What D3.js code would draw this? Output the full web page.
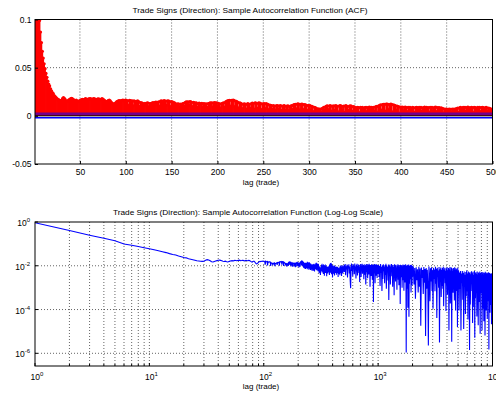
<!DOCTYPE html>
<html>
<head>
<meta charset="utf-8">
<script src="https://cdn.jsdelivr.net/npm/d3@7"></script>
<style>
  body { margin: 0; background: #fff; }
  svg text { font-family: "Liberation Sans", Arial, sans-serif; fill: #000; }
</style>
</head>
<body>
<svg id="chart" width="496" height="394"></svg>
<script>
const acfLag1to500 = [
  0.93, 0.41, 0.25, 0.18, 0.14, 0.099, 0.087, 0.076, 0.067, 0.060,
  0.054, 0.049, 0.044, 0.040, 0.036, 0.033, 0.031, 0.028, 0.026, 0.024,
  0.023, 0.021, 0.020, 0.019, 0.018, 0.017, 0.0165, 0.016, 0.0158, 0.016,
  0.0178, 0.019, 0.0182, 0.0168, 0.0152, 0.0149, 0.0158, 0.0166, 0.0172, 0.0178,
  0.0181, 0.0176, 0.0169, 0.0162, 0.0158, 0.0163, 0.0155, 0.0149, 0.0153, 0.0159,
  0.0164, 0.0168, 0.0171, 0.0166, 0.0172, 0.0178, 0.0175, 0.0169, 0.0173, 0.0177,
  0.0180, 0.0176, 0.0171, 0.0174, 0.0179, 0.0176, 0.0170, 0.0168, 0.0173, 0.0177,
  0.0175, 0.0169, 0.0172, 0.0178, 0.0174, 0.0166, 0.0158, 0.0151, 0.0146, 0.0152,
  0.0159, 0.0164, 0.0156, 0.0143, 0.0131, 0.0125, 0.0122, 0.0128, 0.0136, 0.0144,
  0.0151, 0.0156, 0.0159, 0.0154, 0.0157, 0.0160, 0.0163, 0.0158, 0.0161, 0.0164,
  0.0159, 0.0155, 0.0112, 0.0162, 0.0157, 0.0153, 0.0156, 0.0104, 0.0155, 0.0150,
  0.0146, 0.0151, 0.0155, 0.0149, 0.0098, 0.0138, 0.0134, 0.0131, 0.0128, 0.0107,
  0.0130, 0.0127, 0.0131, 0.0135, 0.0095, 0.0128, 0.0126, 0.0130, 0.0134, 0.0137,
  0.0110, 0.0139, 0.0142, 0.0138, 0.0141, 0.0145, 0.0101, 0.0152, 0.0155, 0.0151,
  0.0154, 0.0157, 0.0153, 0.0112, 0.0154, 0.0156, 0.0152, 0.0148, 0.0097, 0.0147,
  0.0143, 0.0139, 0.0134, 0.0130, 0.0105, 0.0122, 0.0125, 0.0121, 0.0092, 0.0122,
  0.0119, 0.0124, 0.0130, 0.0099, 0.0141, 0.0145, 0.0142, 0.0146, 0.0108, 0.0147,
  0.0144, 0.0140, 0.0096, 0.0139, 0.0135, 0.0131, 0.0134, 0.0090, 0.0127, 0.0131,
  0.0128, 0.0125, 0.0129, 0.0094, 0.0128, 0.0124, 0.0121, 0.0125, 0.0087, 0.0126,
  0.0130, 0.0134, 0.0131, 0.0135, 0.0093, 0.0134, 0.0137, 0.0133, 0.0136, 0.0098,
  0.0129, 0.0125, 0.0084, 0.0124, 0.0128, 0.0132, 0.0136, 0.0091, 0.0146, 0.0151,
  0.0155, 0.0158, 0.0161, 0.0102, 0.0162, 0.0159, 0.0163, 0.0160, 0.0095, 0.0152,
  0.0148, 0.0143, 0.0082, 0.0135, 0.0131, 0.0127, 0.0076, 0.0120, 0.0124, 0.0121,
  0.0118, 0.0071, 0.0126, 0.0123, 0.0119, 0.0080, 0.0127, 0.0131, 0.0128, 0.0069,
  0.0135, 0.0131, 0.0128, 0.0078, 0.0136, 0.0133, 0.0129, 0.0066, 0.0122, 0.0125,
  0.0128, 0.0074, 0.0127, 0.0123, 0.0119, 0.0064, 0.0112, 0.0109, 0.0106, 0.0070,
  0.0106, 0.0102, 0.0061, 0.0103, 0.0107, 0.0104, 0.0067, 0.0103, 0.0106, 0.0058,
  0.0099, 0.0103, 0.0106, 0.0063, 0.0098, 0.0101, 0.0104, 0.0055, 0.0097, 0.0101,
  0.0105, 0.0068, 0.0113, 0.0116, 0.0120, 0.0072, 0.0121, 0.0124, 0.0120, 0.0062,
  0.0119, 0.0122, 0.0118, 0.0066, 0.0117, 0.0113, 0.0109, 0.0057, 0.0108, 0.0104,
  0.0107, 0.0061, 0.0098, 0.0094, 0.0045, 0.0089, 0.0083, 0.0078, 0.0052, 0.0072,
  0.0068, 0.0070, 0.0038, 0.0074, 0.0081, 0.0088, 0.0057, 0.0095, 0.0101, 0.0104,
  0.0064, 0.0102, 0.0105, 0.0049, 0.0101, 0.0098, 0.0103, 0.0060, 0.0106, 0.0102,
  0.0099, 0.0042, 0.0103, 0.0106, 0.0101, 0.0066, 0.0098, 0.0102, 0.0035, 0.0105,
  0.0101, 0.0097, 0.0058, 0.0100, 0.0104, 0.0100, 0.0047, 0.0096, 0.0093, 0.0089,
  0.0062, 0.0086, 0.0089, 0.0085, 0.0033, 0.0088, 0.0084, 0.0087, 0.0056, 0.0083,
  0.0086, 0.0089, 0.0044, 0.0085, 0.0088, 0.0091, 0.0063, 0.0087, 0.0084, 0.0088,
  0.0051, 0.0091, 0.0095, 0.0099, 0.0038, 0.0104, 0.0109, 0.0113, 0.0059, 0.0117,
  0.0120, 0.0118, 0.0048, 0.0121, 0.0123, 0.0119, 0.0066, 0.0116, 0.0121, 0.0118,
  0.0041, 0.0114, 0.0110, 0.0106, 0.0061, 0.0101, 0.0097, 0.0093, 0.0029, 0.0090,
  0.0088, 0.0091, 0.0054, 0.0087, 0.0090, 0.0086, 0.0043, 0.0089, 0.0085, 0.0088,
  0.0064, 0.0084, 0.0087, 0.0083, 0.0036, 0.0086, 0.0089, 0.0085, 0.0058, 0.0088,
  0.0084, 0.0087, 0.0047, 0.0083, 0.0086, 0.0090, 0.0062, 0.0087, 0.0083, 0.0086,
  0.0039, 0.0089, 0.0085, 0.0088, 0.0055, 0.0084, 0.0087, 0.0090, 0.0045, 0.0086,
  0.0083, 0.0086, 0.0065, 0.0082, 0.0078, 0.0074, 0.0031, 0.0071, 0.0068, 0.0070,
  0.0052, 0.0067, 0.0070, 0.0068, 0.0042, 0.0071, 0.0067, 0.0069, 0.0057, 0.0072,
  0.0076, 0.0080, 0.0037, 0.0083, 0.0087, 0.0084, 0.0060, 0.0088, 0.0085, 0.0089,
  0.0046, 0.0086, 0.0090, 0.0087, 0.0064, 0.0084, 0.0088, 0.0085, 0.0034, 0.0089,
  0.0086, 0.0083, 0.0057, 0.0087, 0.0084, 0.0088, 0.0044, 0.0085, 0.0089, 0.0086,
  0.0063, 0.0083, 0.0087, 0.0084, 0.0049, 0.0080, 0.0076, 0.0072, 0.0055, 0.0069
];

// tail of the ACF (log-log panel only), sampled lags
const tailLag505to1000 = [ // every 5 lags
  0.0108, 0.0052, 0.0121, 0.0037, 0.0096, 0.0068, 0.0114, 0.0029, 0.0101, 0.0075,
  0.0118, 0.0044, 0.0093, 0.0021, 0.00095, 0.0087, 0.0125, 0.0058, 0.0104, 0.0033,
  0.0116, 0.0071, 0.0099, 0.0041, 0.0127, 0.0063, 0.0092, 0.0026, 0.0111, 0.0055,
  0.0122, 0.0036, 0.0098, 0.0079, 0.0113, 0.0047, 0.0089, 0.0018, 0.0106, 0.0066,
  0.0119, 0.0031, 0.0102, 0.0059, 0.0124, 0.0043, 0.0094, 0.0072, 0.0110, 0.0024,
  0.0097, 0.0061, 0.0117, 0.0038, 0.0105, 0.0014, 0.0091, 0.0069, 0.0120, 0.0049,
  0.0100, 0.0027, 0.0115, 0.0064, 0.0088, 0.0040, 0.0123, 0.0053, 0.0096, 0.0011,
  0.0109, 0.0074, 0.0093, 0.0034, 0.0118, 0.0057, 0.0101, 0.0023, 0.0112, 0.0062,
  0.0086, 0.00022, 0.0107, 0.0045, 0.0121, 0.0067, 0.0095, 0.0016, 0.0113, 0.0051,
  0.0099, 0.0035, 0.0116, 0.0070, 0.0090, 0.0028, 0.0108, 0.0056, 0.0103, 0.0042
];
const tailLag1010to2000 = [ // every 10 lags
  0.0112, 0.0031, 0.0097, 0.0012, 0.0121, 0.0048, 0.0089, 0.0007, 0.0106, 0.0025,
  0.0118, 0.0056, 0.0093, 0.0016, 0.0109, 0.0038, 0.0124, 0.0009, 0.0101, 0.0062,
  0.0087, 0.0021, 0.0115, 0.00027, 0.0098, 0.0044, 0.0113, 0.0014, 0.0092, 0.0033,
  0.0120, 0.0068, 0.0095, 0.0011, 0.0107, 0.0027, 0.0088, 0.00045, 0.0116, 0.0052,
  0.0099, 0.0019, 0.0111, 0.0036, 0.0084, 0.0008, 0.0103, 0.0059, 0.0117, 0.0023,
  0.0094, 0.0013, 0.0108, 0.0041, 0.0090, 0.00018, 0.0112, 0.0030, 0.0097, 0.0065,
  0.0105, 0.0010, 0.0086, 0.0047, 0.0114, 0.0022, 0.0096, 0.00072, 0.0109, 0.0034,
  0.0091, 0.0017, 0.0118, 0.0054, 0.0100, 0.0000011, 0.0093, 0.0026, 0.0110, 0.0009,
  0.0085, 0.00012, 0.0104, 0.0039, 0.0115, 0.000047, 0.0098, 0.0015, 0.0089, 0.0061,
  0.0107, 0.0024, 0.0095, 0.0006, 0.0112, 0.0043, 0.0087, 0.0013, 0.0101, 0.0032
];
const tailLag2030to5000 = [ // every 30 lags
  0.0092, 0.0014, 0.0078, 0.00031, 0.0086, 0.0022, 0.0069, 0.0006, 0.0090, 0.0011,
  0.0075, 0.000018, 0.0083, 0.0028, 0.0064, 0.00052, 0.0088, 0.0017, 0.0071, 0.0000062,
  0.0080, 0.0009, 0.0066, 0.0013, 0.0000023, 0.0093, 0.0035, 0.00024, 0.0077, 0.0019,
  0.0085, 0.0007, 0.0062, 0.00011, 0.0079, 0.0025, 0.0068, 0.00068, 0.0090, 0.0015,
  0.0073, 0.000041, 0.0082, 0.0031, 0.0060, 0.0010, 0.0087, 0.0000031, 0.0070, 0.0021,
  0.0084, 0.00037, 0.0065, 0.0012, 0.0078, 0.0009, 0.0091, 0.00014, 0.0067, 0.0027,
  0.0081, 0.0016, 0.0059, 0.000085, 0.0076, 0.0033, 0.0086, 0.00047, 0.0063, 0.0008,
  0.0079, 0.000011, 0.0070, 0.0020, 0.0088, 0.00019, 0.0061, 0.0012, 0.0083, 0.0000034,
  0.0074, 0.0024, 0.0058, 0.00058, 0.0080, 0.0011, 0.0066, 0.00026, 0.0085, 0.0017,
  0.0062, 0.00009, 0.0077, 0.0030, 0.0069, 0.0007, 0.0057, 0.000016, 0.0081, 0.0014
];
const tailLag5050to10000 = [ // every 50 lags
  0.0061, 0.00009, 0.0049, 0.0009, 0.0057, 0.000011, 0.0044, 0.0016, 0.0058, 0.00028,
  0.0047, 0.000013, 0.0055, 0.0011, 0.0039, 0.000062, 0.0052, 0.00041, 0.0060, 0.0007,
  0.0043, 0.000035, 0.0054, 0.0013, 0.0048, 0.0000014, 0.0050, 0.00017, 0.0041, 0.0021,
  0.0056, 0.0007, 0.0045, 0.000024, 0.0053, 0.00013, 0.0038, 0.0010, 0.0057, 0.0000052,
  0.0046, 0.00033, 0.0051, 0.0015, 0.0042, 0.000048, 0.0055, 0.0008, 0.0040, 0.000019,
  0.0049, 0.00022, 0.0044, 0.0012, 0.0054, 0.0000078, 0.0047, 0.00055, 0.0039, 0.0018,
  0.0052, 0.000011, 0.0043, 0.00011, 0.0050, 0.0006, 0.0037, 0.000029, 0.0048, 0.0014,
  0.0041, 0.0000065, 0.0053, 0.00045, 0.0046, 0.00009, 0.0036, 0.0011, 0.0049, 0.000038,
  0.0044, 0.00024, 0.0040, 0.0009, 0.0051, 0.0000015, 0.0038, 0.00031, 0.0047, 0.000072,
  0.0042, 0.0013, 0.0035, 0.00016, 0.0045, 0.000021, 0.0039, 0.0007, 0.0043, 0.00009
];
const tailStarts = [505, 1010, 2030, 5050];
const tailSteps = [5, 10, 30, 50];

const confBounds = [0.002, -0.002];

const topXTicks = [50, 100, 150, 200, 250, 300, 350, 400, 450, 500];
const topYTicks = [-0.05, 0, 0.05, 0.1];
const topYLabels = ["-0.05", "0", "0.05", "0.1"];
const botXTickExp = [0, 1, 2, 3, 4];
const botYTickExp = [0, -2, -4, -6];

const svg = d3.select("#chart");
const left = 35, right = 492.5;
const tickFont = "8.5px";

// ---------- top panel: stem plot ----------
const topT = 19.5, topB = 164;
const xTop = d3.scaleLinear().domain([1, 500]).range([left, right]);
const yTop = d3.scaleLinear().domain([-0.05, 0.1]).range([topB, topT]);

svg.append("clipPath").attr("id", "clipTop")
  .append("rect").attr("x", left).attr("y", topT).attr("width", right - left).attr("height", topB - topT);

const gTop = svg.append("g");

// grid
gTop.selectAll(".gx").data(topXTicks.filter(d => d < 500)).enter().append("line")
  .attr("x1", d => xTop(d)).attr("x2", d => xTop(d))
  .attr("y1", topT).attr("y2", topB)
  .attr("stroke", "#222").attr("stroke-width", 0.7).attr("stroke-dasharray", "1,2");
gTop.selectAll(".gy").data([0.05]).enter().append("line")
  .attr("x1", left).attr("x2", right)
  .attr("y1", d => yTop(d)).attr("y2", d => yTop(d))
  .attr("stroke", "#222").attr("stroke-width", 0.7).attr("stroke-dasharray", "1,2");

const stems = acfLag1to500.map((v, i) => ({lag: i + 1, v: v}));
const stemG = gTop.append("g").attr("clip-path", "url(#clipTop)");
stemG.selectAll(".stem").data(stems).enter().append("line")
  .attr("x1", d => xTop(d.lag)).attr("x2", d => xTop(d.lag))
  .attr("y1", yTop(0)).attr("y2", d => yTop(d.v))
  .attr("stroke", "#ff0000").attr("stroke-width", 1.7);
stemG.selectAll(".mk").data(stems).enter().append("circle")
  .attr("cx", d => xTop(d.lag)).attr("cy", d => yTop(d.v)).attr("r", 1.6)
  .attr("fill", "#ff0000");

// confidence bounds and baseline
stemG.append("line")
  .attr("x1", left).attr("x2", right)
  .attr("y1", yTop(confBounds[0])).attr("y2", yTop(confBounds[0]))
  .attr("stroke", "#0000ff").attr("stroke-width", 2.6).attr("stroke-opacity", 0.55);
stemG.append("line")
  .attr("x1", left).attr("x2", right)
  .attr("y1", yTop(0)).attr("y2", yTop(0))
  .attr("stroke", "#000").attr("stroke-width", 1);
stemG.append("line")
  .attr("x1", left).attr("x2", right)
  .attr("y1", yTop(confBounds[1])).attr("y2", yTop(confBounds[1]))
  .attr("stroke", "#0000ff").attr("stroke-width", 1.3);

gTop.append("rect").attr("x", left).attr("y", topT).attr("width", right - left).attr("height", topB - topT)
  .attr("fill", "none").attr("stroke", "#000").attr("stroke-width", 1);

const axTopX = gTop.append("g").attr("transform", `translate(0,${topB})`)
  .call(d3.axisBottom(xTop).tickValues(topXTicks).tickSize(-3).tickPadding(5));
const axTopY = gTop.append("g").attr("transform", `translate(${left},0)`)
  .call(d3.axisLeft(yTop).tickValues(topYTicks).tickFormat((d, i) => topYLabels[i]).tickSize(-3).tickPadding(3.5));
[axTopX, axTopY].forEach(a => {
  a.select(".domain").remove();
  a.selectAll("text").style("font-size", tickFont).attr("fill", "#000");
  a.selectAll("line").attr("stroke", "#000");
});

gTop.append("text").attr("x", 250).attr("y", 12.5).attr("text-anchor", "middle")
  .style("font-size", "8px").attr("textLength", 235).attr("lengthAdjust", "spacingAndGlyphs")
  .text("Trade Signs (Direction): Sample Autocorrelation Function (ACF)");
gTop.append("text").attr("x", 261).attr("y", 185).attr("text-anchor", "middle")
  .style("font-size", "8px").text("lag (trade)");

// ---------- bottom panel: log-log line ----------
const botT = 222, botB = 366;
const xBot = d3.scaleLog().domain([1, 1e4]).range([left, right]);
const yBot = d3.scaleLog().domain([Math.pow(10, -6.58), 1]).range([botB, botT]);

svg.append("clipPath").attr("id", "clipBot")
  .append("rect").attr("x", left).attr("y", botT).attr("width", right - left).attr("height", botB - botT);

const gBot = svg.append("g");

const minorX = [];
[1, 10, 100, 1000].forEach(b => { for (let k = 2; k <= 9; k++) minorX.push(b * k); });
const gridX = minorX.concat([10, 100, 1000]);
gBot.selectAll(".gx").data(gridX).enter().append("line")
  .attr("x1", d => xBot(d)).attr("x2", d => xBot(d))
  .attr("y1", botT).attr("y2", botB)
  .attr("stroke", "#222").attr("stroke-width", 0.7).attr("stroke-dasharray", "1,2");
gBot.selectAll(".gy").data([-2, -4, -6]).enter().append("line")
  .attr("x1", left).attr("x2", right)
  .attr("y1", d => yBot(Math.pow(10, d))).attr("y2", d => yBot(Math.pow(10, d)))
  .attr("stroke", "#222").attr("stroke-width", 0.7).attr("stroke-dasharray", "1,2");

const pts = stems.slice();
[tailLag505to1000, tailLag1010to2000, tailLag2030to5000, tailLag5050to10000].forEach((arr, s) => {
  arr.forEach((v, i) => pts.push({lag: tailStarts[s] + i * tailSteps[s], v: v}));
});

gBot.append("path").datum(pts)
  .attr("clip-path", "url(#clipBot)")
  .attr("fill", "none").attr("stroke", "#0000ff").attr("stroke-width", 1.1)
  .attr("d", d3.line().defined(d => d.v > 0).x(d => xBot(d.lag)).y(d => yBot(d.v)));

gBot.append("rect").attr("x", left).attr("y", botT).attr("width", right - left).attr("height", botB - botT)
  .attr("fill", "none").attr("stroke", "#000").attr("stroke-width", 1);

// inward ticks
gBot.selectAll(".tx").data(botXTickExp.map(e => Math.pow(10, e)).concat(minorX)).enter().append("line")
  .attr("x1", d => xBot(d)).attr("x2", d => xBot(d))
  .attr("y1", botB).attr("y2", d => botB - (minorX.includes(d) ? 2 : 3))
  .attr("stroke", "#000");
gBot.selectAll(".ty").data(botYTickExp).enter().append("line")
  .attr("x1", left).attr("x2", left + 3)
  .attr("y1", d => yBot(Math.pow(10, d))).attr("y2", d => yBot(Math.pow(10, d)))
  .attr("stroke", "#000");

function powLabel(g, x, y, exp, anchor) {
  const t = g.append("text").attr("x", x).attr("y", y).attr("text-anchor", anchor).style("font-size", tickFont);
  t.append("tspan").text("10");
  t.append("tspan").attr("dy", -4).style("font-size", "6px").text(exp);
}
botXTickExp.forEach(e => powLabel(gBot, xBot(Math.pow(10, e)) + 2, 380, e, "middle"));
botYTickExp.forEach(e => powLabel(gBot, 30, yBot(Math.pow(10, e)) + 4, e, "end"));

gBot.append("text").attr("x", 248).attr("y", 214.5).attr("text-anchor", "middle")
  .style("font-size", "8px").attr("textLength", 270).attr("lengthAdjust", "spacingAndGlyphs")
  .text("Trade Signs (Direction): Sample Autocorrelation Function (Log-Log Scale)");
gBot.append("text").attr("x", 261).attr("y", 389).attr("text-anchor", "middle")
  .style("font-size", "8px").text("lag (trade)");
</script>
</body>
</html>
